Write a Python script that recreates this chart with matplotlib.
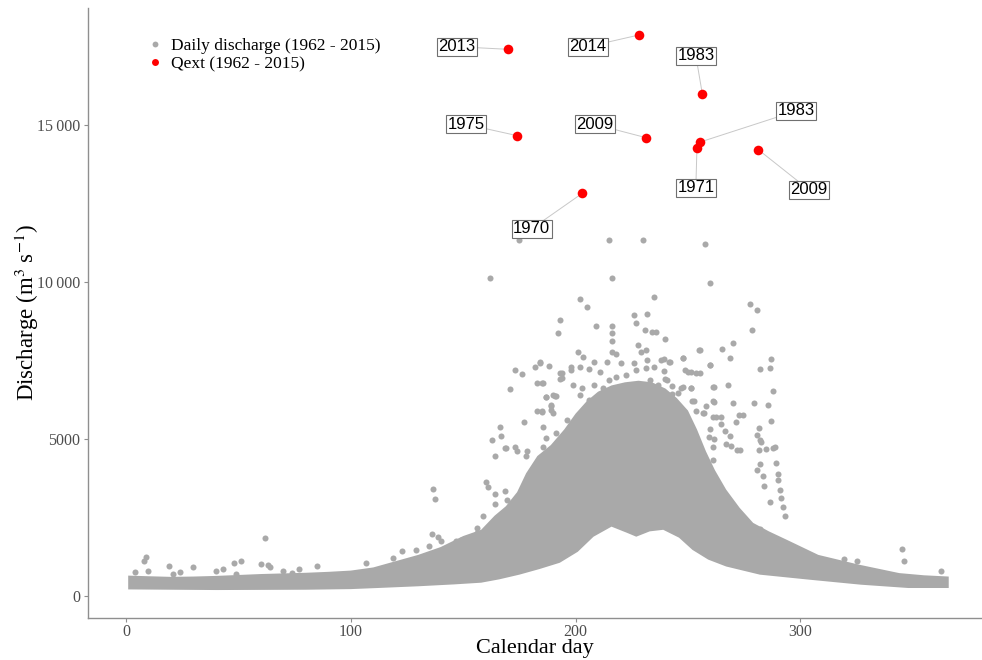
import matplotlib
matplotlib.use("Agg")
import matplotlib.pyplot as plt
from matplotlib.lines import Line2D

# fonts: Times-like text, Arial-like year labels
plt.rcParams['font.family'] = ['Liberation Serif', 'DejaVu Serif']
plt.rcParams['mathtext.fontset'] = 'stix'

GREY = '#A9A9A9'
RED = '#FF0000'

# ---- dense core of the daily discharge cloud ----
upper_day = [1, 10, 20, 30, 40, 50, 60, 70, 80, 90, 100, 110, 120, 130, 140, 150, 158, 164,
             169, 174, 178, 183, 189, 195, 200, 205, 210, 216, 222, 228, 234, 240, 245, 250,
             254, 258, 262, 267, 273, 279, 286, 294, 308, 326, 344, 355, 366]
upper_q = [640, 620, 600, 610, 630, 660, 690, 710, 730, 760, 800, 900, 1100, 1300, 1550, 1900,
           2100, 2550, 2850, 3300, 3900, 4450, 4800, 5300, 5800, 6200, 6500, 6700, 6800, 6850,
           6800, 6600, 6300, 5900, 5300, 4600, 4000, 3380, 2800, 2320, 2050, 1780, 1300, 990,
           720, 650, 610]
lower_day = [1, 20, 40, 60, 80, 100, 112, 130, 146, 158, 166, 175, 184, 193, 201, 208,
             216, 223, 227, 233, 239, 246, 252, 259, 267, 282, 304, 327, 348, 366]
lower_q = [200, 190, 180, 185, 190, 210, 245, 300, 360, 414, 520, 670, 850, 1050, 1400, 1880,
           2200, 2000, 1880, 2050, 2100, 1850, 1460, 1150, 930, 670, 510, 350, 245, 245]

# ---- scattered daily values outside the dense core ----
daily_day = [4, 8, 9, 10, 19, 21, 24, 30, 40, 43, 48, 51, 49, 62, 60, 63, 64, 70, 74, 77, 85, 107,
             119, 123, 129, 135, 136, 139, 140, 147, 149, 136.5, 137.5, 156, 156, 159, 160, 161,
             164, 164, 168.5, 169.5,
             175, 162, 215, 230, 216, 202, 205, 235, 193, 192, 209, 216, 216, 216, 226, 232, 227,
             231, 234, 236, 240, 228, 231.5, 229, 255, 201, 203.5, 216, 218, 208, 214, 220, 226,
             232, 238, 235, 242, 248, 250, 253.5, 260, 184, 188, 194, 198, 202, 206, 211, 193,
             185.5, 199, 203, 208, 212, 215, 218, 222.5, 227, 231.5, 233, 236.5, 240, 243, 247,
             251.5, 261, 187, 191, 189, 202, 206, 224, 228.5, 245.5, 252, 258, 261, 185, 190, 196,
             256.5, 262.5, 185.5, 187, 191.5, 259.5, 261, 185.5, 188.5, 261,
             173, 176, 182, 184, 171, 183, 185, 177, 166.5, 163, 164, 168.5, 173, 178.5, 183, 185,
             187, 190, 191.5, 189, 189, 198, 193, 194, 167, 169, 174, 178,
             257.5, 260, 277.5, 280.5, 278.5, 270, 255.5, 265, 268.5, 287, 282, 286.5, 260, 248,
             288, 285.5, 279.5, 287, 281.5, 280.5, 282.5, 288, 284.5, 281.5, 268, 261.5, 251.5,
             270, 272.5, 274.5, 271.5, 264.5, 261.5,
             239.5, 241.5, 239.5, 248.5, 251.5, 255.5, 240.5, 248, 252.5, 243, 239, 257, 253.5,
             261, 264.5, 260, 266.5, 268.5, 267, 269, 272, 261.5,
             345, 346, 319.5, 325, 362.5, 282, 288.5, 289, 290, 290, 291, 291.5, 292.5, 293, 282,
             280.5, 283.5, 284, 286.5, 282, 273]
daily_q = [755, 1115, 1230, 795, 945, 700, 755, 925, 795, 850, 1050, 1115, 700, 1840, 1010, 975,
           910, 775, 730, 860, 955, 1050,
           1200, 1410, 1460, 1570, 1970, 1870, 1730, 1730, 1780, 3400, 3080, 2160, 2000, 2530,
           3610, 3460, 3250, 2930, 3350, 3060,
           11320, 10120, 11320, 11320, 10120, 9460, 9210, 9510, 8790, 8370, 8580, 8610, 8370,
           8120, 8950, 8980, 8680, 8470, 8390, 8400, 8180, 7990, 7830, 7780, 7830, 7780, 7620,
           7780, 7710, 7460, 7460, 7410, 7410, 7520, 7520, 7280, 7460, 7590, 7140, 7110, 7360,
           7460, 7330, 7090, 7180, 7300, 7230, 7120, 6910, 6770, 6720, 6610, 6720, 6610, 6880,
           6980, 7040, 7200, 7250, 6880, 6720, 6900, 6670, 6610, 6610, 6650, 6330, 6370, 6030,
           6400, 6240, 6560, 6560, 6460, 6220, 6030, 6190, 5870, 5820, 5610, 5820, 5710, 5390,
           5020, 5180, 5070, 4750, 4750, 4540, 4330,
           7200, 7060, 7300, 7430, 6580, 6770, 6770, 5550, 5390, 4950, 4460, 4720, 4740, 4600,
           5890, 5840, 6320, 6400, 6370, 6080, 5920, 7300, 7090, 6930, 5080, 4700, 4600, 4440,
           11200, 9980, 9300, 9110, 8460, 8060, 7840, 7850, 7590, 7540, 7230, 7250, 7360, 7590,
           6520, 6070, 6150, 5560, 5350, 5130, 4900, 4710, 4670, 4630, 6700, 6650, 6630, 6140,
           5750, 5750, 5530, 5480, 6180,
           7540, 7440, 7170, 7200, 7130, 7110, 6880, 6640, 6210, 6430, 6400, 5820, 5870, 5690,
           5680, 5310, 5260, 5100, 4840, 4780, 4650, 5000,
           1500, 1115, 1180, 1115, 775, 4970, 4740, 4225, 3875, 3690, 3375, 3110, 2840, 2530,
           4200, 4010, 3800, 3480, 3000, 2120, 4650]

# ---- annual maxima (Qext) with their year labels ----
qext_day = [169.8, 228.2, 256.4, 174.1, 231.4, 255.5, 254.0, 281.3, 203.0]
qext_q = [17412, 17868, 15988, 14659, 14595, 14458, 14257, 14213, 12823]
qext_year = ['2013', '2014', '1983', '1975', '2009', '1983', '1971', '2009', '1970']
label_day = [147.2, 205.4, 253.5, 151.3, 208.5, 298.1, 253.5, 303.9, 180.5]
label_q = [17495, 17495, 17208, 15022, 15022, 15446, 13002, 12929, 11695]

x_ticks = [0, 100, 200, 300]
y_ticks = [0, 5000, 10000, 15000]
y_tick_labels = ['0', '5000', '10\u2009000', '15\u2009000']

fig = plt.figure(figsize=(9.82, 6.60), dpi=100)
ax = fig.add_axes([87.5 / 982, 42.5 / 660, (982 - 87.5) / 982, (617.5 - 8) / 660])

# dense cloud as a polygon, then the scattered days on top
ax.fill(upper_day + lower_day[::-1], upper_q + lower_q[::-1], color=GREY, lw=0, zorder=1)
ax.scatter(daily_day, daily_q, s=19, color=GREY, lw=0, zorder=2)

# leader lines from each maximum to its label
for d, q, ld, lq in zip(qext_day, qext_q, label_day, label_q):
    ax.plot([d, ld], [q, lq], color='#c8c8c8', lw=0.7, zorder=3)

ax.scatter(qext_day, qext_q, s=48, color=RED, lw=0, zorder=5)

for ld, lq, yr in zip(label_day, label_q, qext_year):
    ax.text(ld, lq, yr, family='Liberation Sans', fontsize=12, ha='center', va='center',
            zorder=6, bbox=dict(boxstyle='square,pad=0.08', fc='white', ec='#707070', lw=0.8))

ax.set_xlim(-17.1, 380.8)
ax.set_ylim(-695, 18728)
ax.set_xticks(x_ticks)
ax.set_yticks(y_ticks, labels=y_tick_labels)

for side in ['top', 'right']:
    ax.spines[side].set_visible(False)
for side in ['left', 'bottom']:
    ax.spines[side].set_color('#8f8f8f')
    ax.spines[side].set_linewidth(1.0)
ax.tick_params(colors='#8f8f8f', labelcolor='#4d4d4d', labelsize=11.5, length=3, width=0.8, pad=2)

ax.set_xlabel('Calendar day', fontsize=16, color='black', labelpad=-1)
ax.set_ylabel('Discharge (m$^{3}$ s$^{-1}$)', fontsize=16.5, color='black', labelpad=-2.5)

# legend at the top left
handles = [Line2D([], [], ls='none', marker='o', ms=4.2, color=GREY, mew=0),
           Line2D([], [], ls='none', marker='o', ms=5.0, color=RED, mew=0)]
ax.legend(handles, ['Daily discharge (1962 - 2015)', 'Qext (1962 - 2015)'],
          loc='upper left', bbox_to_anchor=(146.5 / 982, 1 - 38 / 660),
          bbox_transform=fig.transFigure, frameon=False, fontsize=12.5,
          handlelength=1.0, handletextpad=0.4, labelspacing=0.1,
          borderpad=0, borderaxespad=0)

fig.savefig('out.png', dpi=100)
